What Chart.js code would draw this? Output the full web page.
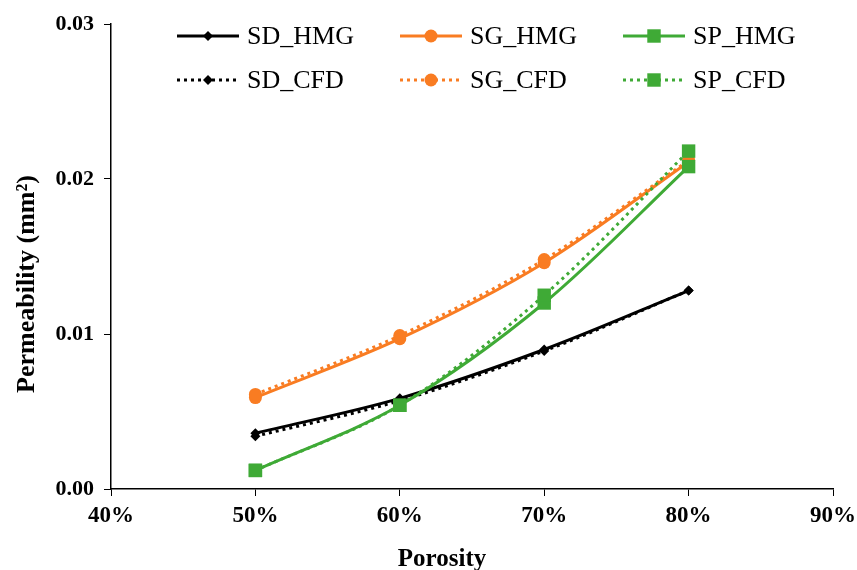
<!DOCTYPE html>
<html>
<head>
<meta charset="utf-8">
<script src="https://cdn.jsdelivr.net/npm/chart.js@4/dist/chart.umd.min.js"></script>
<style>
  html, body { margin: 0; padding: 0; background: #ffffff; }
  #wrap { width: 857px; height: 570px; }
</style>
</head>
<body>
<div id="wrap"><canvas id="c" width="857" height="570"></canvas></div>
<script>
// ---- data ----
const porosity = [0.5, 0.6, 0.7, 0.8];
const sdHMG = [0.0036, 0.00585, 0.0090, 0.0128];
const sdCFD = [0.0034, 0.0057, 0.0089, 0.0128];
const sgHMG = [0.0059, 0.0097, 0.0146, 0.0211];
const sgCFD = [0.0061, 0.0099, 0.0148, 0.0212];
const spHMG = [0.0012, 0.0054, 0.0120, 0.0208];
const spCFD = [0.0012, 0.0054, 0.0125, 0.0218];
const seriesNames = ['SD_HMG', 'SG_HMG', 'SP_HMG', 'SD_CFD', 'SG_CFD', 'SP_CFD'];
const xTickValues = [0.4, 0.5, 0.6, 0.7, 0.8, 0.9];
const yTickValues = [0, 0.01, 0.02, 0.03];
const xTitle = 'Porosity';
const yTitle = 'Permeability (mm\u00B2)';

const BLACK = '#000000', ORANGE = '#F97C22', GREEN = '#3FAA36';
const SERIF = '"Times New Roman", "Liberation Serif", serif';

function pts(vals) { return vals.map((v, i) => ({ x: porosity[i], y: v })); }

function ds(label, vals, color, style, radius, dotted, order) {
  return {
    label: label,
    data: pts(vals),
    borderColor: color,
    backgroundColor: color,
    pointBackgroundColor: color,
    pointBorderColor: color,
    pointBorderWidth: 0,
    pointStyle: style,
    pointRadius: radius,
    pointHoverRadius: radius,
    borderWidth: 3,
    borderDash: dotted ? [3, 4] : [],
    tension: 0.33,
    fill: false,
    order: order,
    _dotted: dotted,
    _radius: radius
  };
}

const datasets = [
  ds(seriesNames[0], sdHMG, BLACK, 'rectRot', 5, false, 6),
  ds(seriesNames[1], sgHMG, ORANGE, 'circle', 6.5, false, 4),
  ds(seriesNames[2], spHMG, GREEN, 'rect', 9.5, false, 2),
  ds(seriesNames[3], sdCFD, BLACK, 'rectRot', 5, true, 5),
  ds(seriesNames[4], sgCFD, ORANGE, 'circle', 6.5, true, 3),
  ds(seriesNames[5], spCFD, GREEN, 'rect', 9.5, true, 1)
];

function drawMarker(ctx, style, x, y, r, color) {
  ctx.save();
  ctx.fillStyle = color;
  ctx.beginPath();
  if (style === 'circle') {
    ctx.arc(x, y, r, 0, Math.PI * 2);
  } else if (style === 'rect') {
    const s = Math.SQRT1_2 * r;
    ctx.rect(x - s, y - s, 2 * s, 2 * s);
  } else {
    ctx.moveTo(x - r, y); ctx.lineTo(x, y - r); ctx.lineTo(x + r, y); ctx.lineTo(x, y + r); ctx.closePath();
  }
  ctx.fill();
  ctx.restore();
}

const customText = {
  id: 'customText',
  afterDraw(chart) {
    const ctx = chart.ctx;
    // legend
    const lineX = [177, 400, 623];
    const lineLen = 62;
    const textX = [247, 470, 693];
    const rowY = [36, 80];
    chart.data.datasets.forEach((d, i) => {
      const col = i % 3, row = Math.floor(i / 3);
      const y = rowY[row];
      ctx.save();
      ctx.strokeStyle = d.borderColor;
      ctx.lineWidth = 3;
      ctx.setLineDash(d._dotted ? [3, 4] : []);
      ctx.beginPath();
      ctx.moveTo(lineX[col], y);
      ctx.lineTo(lineX[col] + lineLen, y);
      ctx.stroke();
      ctx.restore();
      drawMarker(ctx, d.pointStyle, lineX[col] + lineLen / 2, y, d._radius, d.borderColor);
      ctx.save();
      ctx.fillStyle = '#000';
      ctx.font = '26px ' + SERIF;
      ctx.textBaseline = 'middle';
      ctx.textAlign = 'left';
      ctx.fillText(d.label, textX[col], y + 1);
      ctx.restore();
    });
    // axis titles
    ctx.save();
    ctx.fillStyle = '#000';
    ctx.font = 'bold 25px ' + SERIF;
    ctx.textAlign = 'center';
    ctx.textBaseline = 'alphabetic';
    ctx.fillText(xTitle, 442, 566);
    ctx.restore();
    ctx.save();
    ctx.fillStyle = '#000';
    ctx.font = 'bold 26px ' + SERIF;
    ctx.translate(34, 284);
    ctx.rotate(-Math.PI / 2);
    ctx.textAlign = 'center';
    ctx.textBaseline = 'alphabetic';
    ctx.fillText(yTitle, 0, 0);
    ctx.restore();
  }
};

new Chart(document.getElementById('c'), {
  type: 'line',
  data: { datasets: datasets },
  options: {
    responsive: false,
    devicePixelRatio: 1,
    animation: false,
    layout: { padding: { left: 0, right: 24, top: 24, bottom: 0 } },
    plugins: { legend: { display: false }, tooltip: { enabled: false }, title: { display: false } },
    scales: {
      x: {
        type: 'linear',
        min: 0.4, max: 0.9,
        afterBuildTicks(scale) { scale.ticks = xTickValues.map(v => ({ value: v })); },
        afterFit(scale) { scale.height = 81; scale.paddingLeft = 0; scale.paddingRight = 0; },
        grid: { drawOnChartArea: false, drawTicks: true, tickLength: 7, color: '#000', lineWidth: 1 },
        border: { display: true, color: '#000', width: 1.5 },
        ticks: {
          color: '#000',
          padding: 6,
          font: { family: SERIF, size: 23, weight: 'bold' },
          callback: v => Math.round(v * 100) + '%',
          maxRotation: 0
        }
      },
      y: {
        type: 'linear',
        min: 0, max: 0.03,
        afterBuildTicks(scale) { scale.ticks = yTickValues.map(v => ({ value: v })); },
        afterFit(scale) { scale.width = 111; scale.paddingTop = 0; scale.paddingBottom = 0; },
        grid: { drawOnChartArea: false, drawTicks: true, tickLength: 7, color: '#000', lineWidth: 1 },
        border: { display: true, color: '#000', width: 1.5 },
        ticks: {
          color: '#000',
          padding: 10,
          font: { family: SERIF, size: 22, weight: 'bold' },
          callback: v => Number(v).toFixed(2)
        }
      }
    }
  },
  plugins: [customText]
});
</script>
</body>
</html>
